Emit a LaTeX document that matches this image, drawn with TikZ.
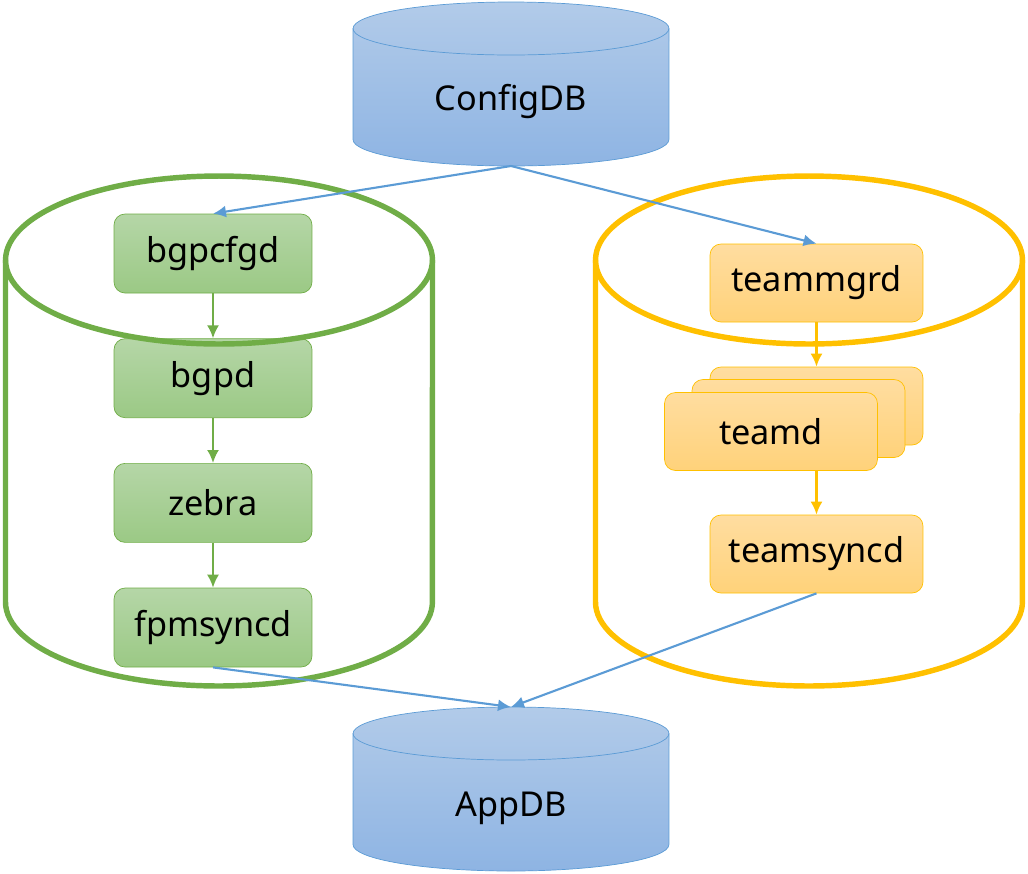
\documentclass[tikz,border=0pt]{standalone}
\usepackage{fontspec}
\setmainfont{Noto Sans}
\usepackage{tikz}
\usetikzlibrary{shapes,arrows,arrows.meta}
\usetikzlibrary{positioning}
\definecolor{dbline}{HTML}{5B9BD5}
\definecolor{dbtop}{HTML}{B2CBE9}
\definecolor{dbbot}{HTML}{8EB4E3}
\definecolor{bgpline}{HTML}{70AD47}
\definecolor{bgptop}{HTML}{B5D6A7}
\definecolor{bgpbot}{HTML}{9BC985}
\definecolor{teamline}{HTML}{FFC000}
\definecolor{teamtop}{HTML}{FFDDA0}
\definecolor{teambot}{HTML}{FFD27A}
\tikzstyle{arrow} = [line width=1.2pt,->,>={Latex[length=2.6mm,width=2.4mm]}]
\tikzstyle{dbbody} = [draw=dbline, top color=dbtop, bottom color=dbbot]
\tikzstyle{dblabel} = [anchor=base, font=\fontsize{19.5}{22}\selectfont]
\tikzstyle{container} = [line width=3.1pt]
\tikzstyle{bgpbox} = [
    rectangle, rounded corners=0.22cm, minimum width=3.96cm, minimum height=1.58cm,
    draw=bgpline, top color=bgptop, bottom color=bgpbot, font=\fontsize{19.5}{22}\selectfont]
\tikzstyle{teambox} = [
    rectangle, rounded corners=0.22cm, minimum width=4.26cm, minimum height=1.56cm,
    draw=teamline, top color=teamtop, bottom color=teambot, font=\fontsize{19.5}{22}\selectfont]

\begin{document}
\begin{tikzpicture}[x=0.02cm, y=-0.02cm, node distance=0.9cm]
\useasboundingbox (0,0) rectangle (1028,873);

% databases
\path [dbbody] (353,28.5) -- (353,139.5) arc (180:360:3.16cm and 0.53cm) -- (669,28.5)
    arc (0:180:3.16cm and 0.53cm) -- cycle;
\draw [dbline] (353,28.5) arc (180:360:3.16cm and 0.53cm);
\node (configdb) [dblabel] at (511,110) {ConfigDB};
\coordinate (configout) at (511,166);

\path [dbbody] (353,733.5) -- (353,844.5) arc (180:360:3.16cm and 0.53cm) -- (669,733.5)
    arc (0:180:3.16cm and 0.53cm) -- cycle;
\draw [dbline] (353,733.5) arc (180:360:3.16cm and 0.53cm);
\node (appdb) [dblabel] at (511,816) {AppDB};
\coordinate (appin) at (511,707);

% bgp side
\node (bgpcfgd) [bgpbox] at (213,253.5) {bgpcfgd};
\node (bgpd) [bgpbox, below=of bgpcfgd] {bgpd};
\node (zebra) [bgpbox, below=of bgpd] {zebra};
\node (fpmsyncd) [bgpbox, below=of zebra] {fpmsyncd};

% team side
\node (teammgrd) [teambox] at (816.5,283) {teammgrd};
\node (teamdc) [teambox] at (816.5,406) {};
\node (teamdb) [teambox] at (798.5,418.5) {};
\node (teamd) [teambox] at (771,431.5) {teamd};
\node (teamsyncd) [teambox] at (816.5,554) {teamsyncd};

% containers
\draw [container, bgpline] (219,260) ellipse (4.27cm and 1.68cm);
\draw [container, bgpline] (5.5,260) -- (5.5,602) arc (180:360:4.27cm and 1.68cm) -- (432.5,260);
\draw [container, teamline] (809,260) ellipse (4.27cm and 1.68cm);
\draw [container, teamline] (595.5,260) -- (595.5,602) arc (180:360:4.27cm and 1.68cm) -- (1022.5,260);

\draw [arrow, bgpline] (bgpcfgd) -- (bgpd);
\draw [arrow, bgpline] (bgpd) -- (zebra);
\draw [arrow, bgpline] (zebra) -- (fpmsyncd);
\draw [arrow, teamline] (teammgrd) -- (teamdc);
\draw [arrow, teamline] (teamd.south -| teamsyncd.north) -- (teamsyncd);

\draw [arrow, dbline] (configout) -- (bgpcfgd.north);
\draw [arrow, dbline] (configout) -- (teammgrd.north);
\draw [arrow, dbline] (fpmsyncd.south) -- (appin);
\draw [arrow, dbline] (teamsyncd.south) -- (appin);
\end{tikzpicture}
\end{document}
